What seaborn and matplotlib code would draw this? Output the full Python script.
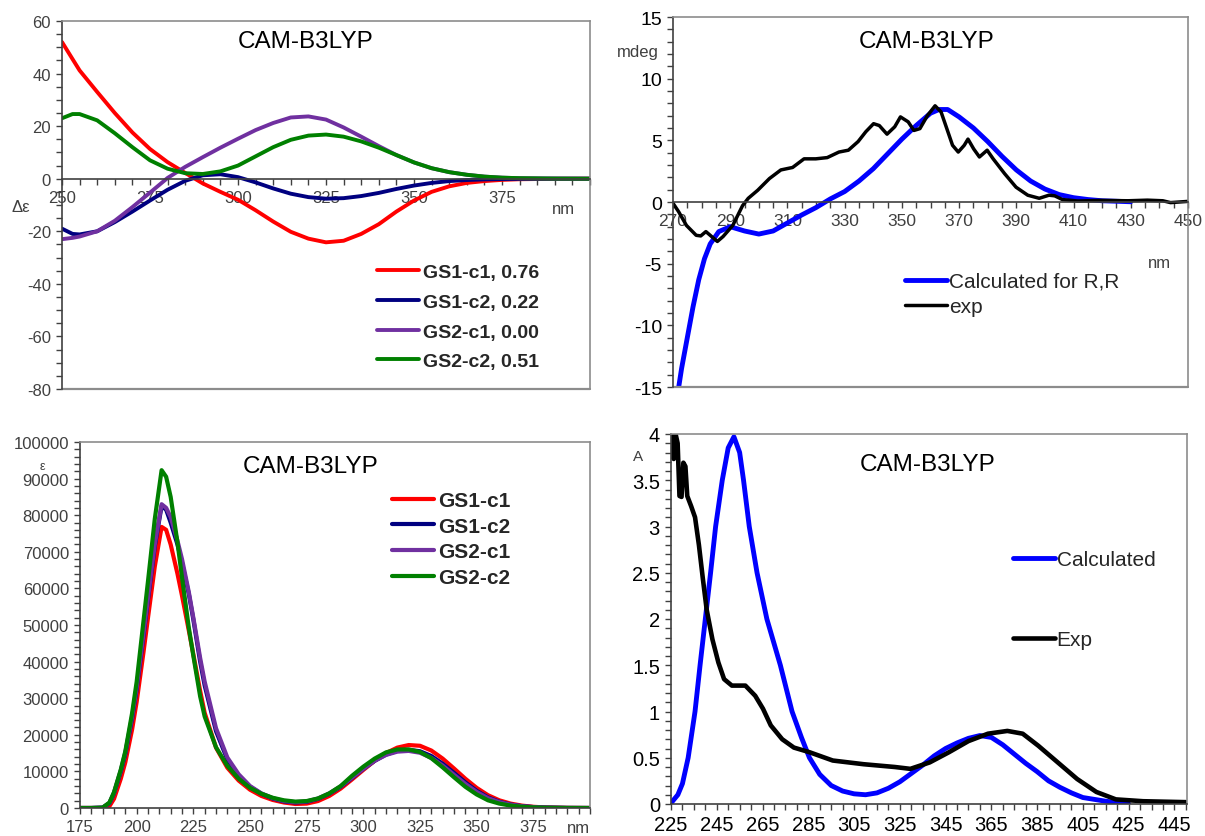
import numpy as np
import matplotlib as mpl
_ = mpl.use('Agg')
import matplotlib.pyplot as plt
import matplotlib.ticker as mticker
from matplotlib.lines import Line2D
import seaborn as sns

sns.set_style('white')
plt.rcParams['font.family'] = ['Liberation Sans', 'DejaVu Sans']
plt.rcParams['axes.unicode_minus'] = False

# --- top left: calculated ECD (delta epsilon) ---
cd_wl = [250, 253, 255, 260, 265, 270, 275, 280, 285, 290, 295, 300, 305, 310, 315,
         320, 325, 330, 335, 340, 345, 350, 355, 360, 365, 370, 375, 380, 390, 400]
cd_gs1c1 = [52, 45.5, 41.2, 33, 25, 17.6, 11.3, 6.3, 2.2, -1.8, -5, -8, -12, -16.3, -20.2,
            -22.8, -24.2, -23.6, -21, -17.3, -12.5, -8.3, -5, -2.9, -1.6, -0.9, -0.45, -0.2, -0.05, 0]
cd_gs1c2 = [-19, -21, -21.2, -20, -16.5, -12.5, -8.3, -4.2, -0.8, 1.3, 1.7, 0.6, -1.4, -3.7, -5.7,
            -7, -7.6, -7.4, -6.6, -5.4, -3.9, -2.6, -1.6, -0.9, -0.5, -0.25, -0.12, -0.05, 0, 0]
cd_gs2c1 = [-23, -22.5, -22, -20, -16, -10.8, -5.3, 0.3, 4.5, 8.2, 11.8, 15.2, 18.5, 21.2, 23.3,
            23.7, 22.5, 19.5, 16, 12.4, 9, 6.2, 4, 2.5, 1.5, 0.8, 0.4, 0.2, 0.05, 0]
cd_gs2c2 = [23, 24.6, 24.6, 22.2, 17.3, 12, 7, 3.8, 2.1, 1.8, 2.8, 5, 8.5, 12, 14.8,
            16.4, 16.8, 16, 14.2, 11.8, 9, 6.2, 4, 2.5, 1.5, 0.8, 0.4, 0.2, 0.05, 0]
cd_labels = ['GS1-c1, 0.76', 'GS1-c2, 0.22', 'GS2-c1, 0.00', 'GS2-c2, 0.51']

# --- top right: ECD calculated vs experiment (mdeg) ---
cd_calc_x = [272, 273, 275, 277, 279, 281, 283, 286, 290, 295, 300, 305, 310, 315, 320, 325,
             330, 335, 340, 345, 350, 355, 360, 363, 366, 370, 375, 380, 385, 390, 395, 400,
             405, 410, 415, 420, 430]
cd_calc_y = [-15, -13.5, -11, -8.5, -6.3, -4.6, -3.4, -2.4, -2.0, -2.35, -2.6, -2.35, -1.7, -1.05,
             -0.45, 0.25, 0.85, 1.7, 2.7, 3.9, 5.1, 6.2, 7.2, 7.5, 7.5, 6.9, 6.0, 4.9, 3.7, 2.6,
             1.7, 1.05, 0.6, 0.35, 0.2, 0.1, 0.02]
cd_exp_x = [270, 272, 274.7, 278.1, 279.7, 281.5, 283.5, 285.5, 287.5, 290.9, 294.3, 296.3, 299.6,
            303.7, 307.7, 311.8, 315.8, 319.9, 323.9, 328, 331.3, 334.7, 337.4, 340.1, 342.1, 344.8,
            347.5, 349.5, 352.2, 354.2, 356.3, 358.9, 361.6, 363.7, 365.7, 367.7, 369.7, 371.8,
            373.1, 375.1, 377.1, 379.8, 381.9, 385.9, 389.9, 394, 398, 401.4, 403.4, 406.1, 411.5,
            419.6, 429, 435.8, 441.2, 443.9, 450]
cd_exp_y = [-0.1, -0.8, -1.9, -2.7, -2.75, -2.4, -2.8, -3.2, -2.8, -1.9, -0.3, 0.3, 0.95, 1.9, 2.6,
            2.8, 3.5, 3.5, 3.6, 4.05, 4.2, 4.9, 5.7, 6.35, 6.2, 5.5, 6.1, 6.9, 6.5, 5.8, 5.95, 7.0,
            7.8, 7.3, 5.95, 4.6, 4.05, 4.6, 5.1, 4.3, 3.65, 4.2, 3.5, 2.3, 1.2, 0.55, 0.3, 0.55,
            0.5, 0.2, 0.08, 0.13, 0.1, 0.15, 0.1, -0.05, 0.05]

# --- bottom left: calculated UV (epsilon) ---
uv_wl = [175, 180, 185, 188, 190, 193, 195, 198, 200, 203, 205, 208, 211, 213, 215, 218, 220,
         223, 225, 228, 230, 235, 240, 245, 250, 255, 260, 265, 270, 275, 280, 285, 290, 295,
         300, 305, 310, 315, 320, 325, 330, 335, 340, 345, 350, 355, 360, 365, 370, 375, 380,
         390, 400]
uv_gs1c1 = [0, 0, 0, 500, 2500, 8000, 12500, 21500, 29000, 42500, 52000, 66000, 76800, 76000,
            72000, 64000, 58000, 48500, 42000, 32000, 26000, 16500, 11000, 7500, 5000, 3300, 2200,
            1500, 1100, 1200, 1900, 3300, 5300, 7800, 10400, 12900, 15000, 16500, 17200, 17000,
            15700, 13500, 10800, 8000, 5500, 3500, 2100, 1200, 650, 330, 160, 30, 0]
uv_gs1c2 = [0, 0, 100, 1300, 4000, 10000, 14800, 24500, 32500, 47000, 57000, 71500, 82500, 81500,
            78000, 72000, 67000, 58500, 51500, 40000, 33500, 21000, 13300, 8800, 5800, 3900, 2600,
            1800, 1500, 1700, 2500, 3900, 5800, 8200, 10700, 12900, 14600, 15600, 15900, 15500,
            14200, 12100, 9600, 7000, 4700, 2900, 1700, 950, 500, 250, 120, 20, 0]
uv_gs2c1 = [0, 0, 100, 1400, 4200, 10300, 15200, 25000, 33000, 47500, 57500, 72000, 83000, 82000,
            79500, 73000, 68000, 59000, 52000, 41000, 34500, 21800, 13800, 9200, 6000, 4000, 2700,
            1900, 1600, 1800, 2600, 4000, 5900, 8300, 10700, 12900, 14500, 15400, 15600, 15100,
            13700, 11600, 9100, 6600, 4400, 2700, 1600, 900, 480, 240, 110, 20, 0]
uv_gs2c2 = [0, 0, 100, 1500, 4300, 10500, 15500, 26000, 34500, 51000, 62000, 79000, 92300, 90500,
            85000, 72600, 63000, 49300, 41600, 30500, 25000, 16600, 11500, 8000, 5500, 3900, 2800,
            2100, 1750, 1900, 2600, 4000, 6000, 8800, 11300, 13500, 15200, 16000, 16000, 15300,
            13600, 11100, 8400, 5800, 3700, 2100, 1200, 650, 350, 170, 80, 15, 0]
uv_labels = ['GS1-c1', 'GS1-c2', 'GS2-c1', 'GS2-c2']

# --- bottom right: UV calculated vs experiment (A) ---
uv_calc_x = [225, 228, 230, 232.5, 235.5, 237.7, 240, 242.3, 244.5, 247.4, 250, 252.5, 255, 256.7,
             259.2, 262.6, 266.9, 272.8, 277.9, 282, 285.5, 290, 295, 300, 305, 310, 315, 320,
             325, 330, 335, 340, 345, 350, 355, 360, 365, 370, 375, 380, 385, 390, 395, 400, 405,
             410, 415, 425]
uv_calc_y = [0.01, 0.1, 0.22, 0.5, 1.0, 1.5, 2.0, 2.5, 3.0, 3.5, 3.85, 3.97, 3.8, 3.5, 3.0, 2.5,
             2.0, 1.5, 1.0, 0.72, 0.5, 0.32, 0.2, 0.14, 0.11, 0.1, 0.12, 0.17, 0.24, 0.33, 0.42,
             0.52, 0.6, 0.66, 0.71, 0.74, 0.72, 0.64, 0.54, 0.44, 0.35, 0.25, 0.18, 0.12, 0.07,
             0.05, 0.03, 0.0]
uv_exp_x = [225, 225.3, 226.2, 227, 227.9, 228.7, 229.6, 230.4, 231.3, 232.1, 233.8, 235.5, 237.2,
            238.9, 240.6, 243.1, 245.7, 248.2, 251.6, 257.5, 261.8, 265.2, 268.6, 273.6, 278.7,
            285.5, 295.7, 309.2, 322.8, 329.6, 338.1, 346.5, 355, 363.5, 372, 378.7, 385.5, 394,
            402.5, 410.9, 419.4, 431.3, 450]
uv_exp_y = [3.75, 4.0, 3.73, 4.0, 3.9, 3.33, 3.32, 3.69, 3.65, 3.33, 3.22, 3.1, 2.8, 2.44, 2.1,
            1.78, 1.53, 1.35, 1.28, 1.28, 1.17, 1.03, 0.85, 0.7, 0.61, 0.56, 0.47, 0.43, 0.4, 0.38,
            0.45, 0.56, 0.68, 0.76, 0.79, 0.76, 0.63, 0.45, 0.27, 0.13, 0.05, 0.03, 0.02]

conf_colors = ['#FF0000', '#000080', '#7030A0', '#008000']
GRAY = '#8C8C8C'
DARK = '#404040'
W, H = 1205.0, 837.0


def box(l, t, r, b):
    return [l / W, 1 - b / H, (r - l) / W, (b - t) / H]


def style_axes(ax, zero_axis, labelcolor, size):
    for s in ['top', 'right']:
        ax.spines[s].set_color(GRAY)
    ax.spines['left'].set_color(DARK)
    ax.spines['bottom'].set_color(DARK)
    for s in ax.spines.values():
        s.set_linewidth(1.2)
    if zero_axis:
        ax.spines['bottom'].set_position(('data', 0))
        ax.add_line(Line2D([0, 1], [0, 0], transform=ax.transAxes, color=GRAY, lw=1.6, clip_on=False))
        ax.set_axisbelow(True)
    ax.tick_params(which='both', direction='out', length=4, width=1, color=DARK,
                   left=True, bottom=True, labelcolor=labelcolor, labelsize=size, pad=4)
    ax.set_xlabel('')
    ax.set_ylabel('')


def title(ax, x, y):
    ax.text(x, y, 'CAM-B3LYP', transform=ax.transAxes, ha='center', va='center',
            fontsize=17.5, color='black')


fig = plt.figure(figsize=(12.05, 8.37), dpi=100)

# top left
ax1 = fig.add_axes(box(62, 22, 590, 390))
for vals, c, lab in zip([cd_gs1c1, cd_gs1c2, cd_gs2c1, cd_gs2c2], conf_colors, cd_labels):
    sns.lineplot(x=cd_wl, y=vals, color=c, lw=2.8, label=lab, ax=ax1)
ax1.set_xlim(250, 400)
ax1.set_ylim(-80, 60)
ax1.xaxis.set_major_locator(mticker.FixedLocator(list(range(250, 376, 25))))
ax1.xaxis.set_minor_locator(mticker.MultipleLocator(5))
ax1.yaxis.set_major_locator(mticker.MultipleLocator(20))
ax1.yaxis.set_minor_locator(mticker.MultipleLocator(5))
style_axes(ax1, True, DARK, 12)
ax1.legend(loc='center', bbox_to_anchor=(0.75, 0.196), frameon=False,
           prop={'weight': 'bold', 'size': 14}, handlelength=2.2, handletextpad=0.2,
           labelspacing=0.62)
title(ax1, 0.461, 0.947)
fig.text(21 / W, 1 - 208 / H, 'Δε', ha='center', va='center', fontsize=12, color=DARK)
fig.text(563 / W, 1 - 209 / H, 'nm', ha='center', va='center', fontsize=12, color=DARK)

# top right
ax2 = fig.add_axes(box(673, 18, 1188, 388))
sns.lineplot(x=cd_calc_x, y=cd_calc_y, color='#0000FF', lw=3.5, label='Calculated for R,R', ax=ax2)
sns.lineplot(x=cd_exp_x, y=cd_exp_y, color='black', lw=2.5, label='exp', ax=ax2)
ax2.set_xlim(270, 450)
ax2.set_ylim(-15, 15)
ax2.xaxis.set_major_locator(mticker.FixedLocator(list(range(270, 451, 20))))
ax2.xaxis.set_minor_locator(mticker.MultipleLocator(5))
ax2.yaxis.set_major_locator(mticker.MultipleLocator(5))
ax2.yaxis.set_minor_locator(mticker.MultipleLocator(1))
style_axes(ax2, True, 'black', 14)
ax2.tick_params(axis='x', labelsize=12.5, labelcolor=DARK)
ax2.legend(loc='upper left', bbox_to_anchor=((905 - 673) / 515.0, (388 - 273) / 370.0),
           frameon=False, fontsize=15, handlelength=2.0, handletextpad=0.1,
           labelspacing=0.3, borderpad=0, borderaxespad=0)
title(ax2, (926.5 - 673) / 515.0, (388 - 42) / 370.0)
fig.text(638 / W, 1 - 52 / H, 'mdeg', ha='center', va='center', fontsize=12, color=DARK)
fig.text(1159 / W, 1 - 263 / H, 'nm', ha='center', va='center', fontsize=12, color=DARK)

# bottom left
ax3 = fig.add_axes(box(80, 443, 590, 809))
for vals, c, lab in zip([uv_gs1c1, uv_gs1c2, uv_gs2c1, uv_gs2c2], conf_colors, uv_labels):
    sns.lineplot(x=uv_wl, y=vals, color=c, lw=3.0, label=lab, ax=ax3)
ax3.set_xlim(175, 400)
ax3.set_ylim(0, 100000)
ax3.xaxis.set_major_locator(mticker.FixedLocator(list(range(175, 376, 25))))
ax3.xaxis.set_minor_locator(mticker.MultipleLocator(5))
ax3.yaxis.set_major_locator(mticker.MultipleLocator(10000))
ax3.yaxis.set_minor_locator(mticker.MultipleLocator(2000))
ax3.yaxis.set_major_formatter(mticker.StrMethodFormatter('{x:.0f}'))
style_axes(ax3, False, DARK, 12)
ax3.legend(loc='upper left', bbox_to_anchor=((392 - 80) / 510.0, (809 - 492) / 366.0),
           frameon=False, prop={'weight': 'bold', 'size': 15}, handlelength=2.0,
           handletextpad=0.2, labelspacing=0.32, borderpad=0, borderaxespad=0)
title(ax3, (311 - 80) / 510.0, (809 - 467) / 366.0)
fig.text(42 / W, 1 - 467 / H, 'ε', ha='center', va='center', fontsize=9, color=DARK)
fig.text(578 / W, 1 - 829 / H, 'nm', ha='center', va='center', fontsize=12, color=DARK)

# bottom right
ax4 = fig.add_axes(box(671, 435, 1187, 805))
sns.lineplot(x=uv_calc_x, y=uv_calc_y, color='#0000FF', lw=3.5, label='Calculated', ax=ax4)
sns.lineplot(x=uv_exp_x, y=uv_exp_y, color='black', lw=3.3, label='Exp', ax=ax4)
ax4.set_xlim(225, 450.5)
ax4.set_ylim(0, 4)
ax4.xaxis.set_major_locator(mticker.FixedLocator(list(range(225, 446, 20))))
ax4.xaxis.set_minor_locator(mticker.MultipleLocator(5))
ax4.yaxis.set_major_locator(mticker.MultipleLocator(0.5))
ax4.yaxis.set_minor_locator(mticker.MultipleLocator(0.1))
ax4.yaxis.set_major_formatter(mticker.StrMethodFormatter('{x:g}'))
style_axes(ax4, False, 'black', 14.5)
ax4.legend(loc='upper left', bbox_to_anchor=((1013 - 671) / 516.0, (805 - 551) / 370.0),
           frameon=False, fontsize=15, handlelength=2.0, handletextpad=0.1,
           labelspacing=2.95, borderpad=0, borderaxespad=0)
title(ax4, (927.5 - 671) / 516.0, (805 - 465) / 370.0)
fig.text(638 / W, 1 - 457 / H, 'A', ha='center', va='center', fontsize=11, color=DARK)

fig.savefig('out.png', dpi=100)
